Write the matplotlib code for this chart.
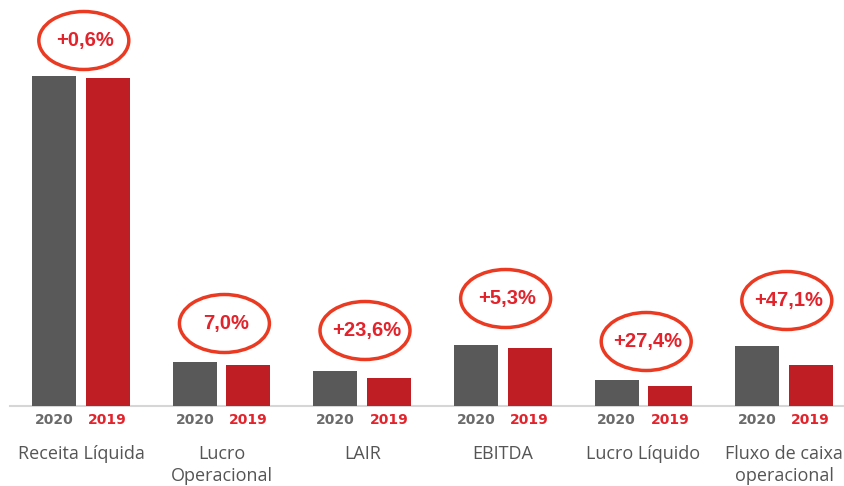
import matplotlib
matplotlib.use('Agg')
import matplotlib.pyplot as plt
from matplotlib.patches import Ellipse
import numpy as np

# indicadores 2020 x 2019 (escala relativa)
categorias = ['Receita Líquida', 'Lucro\nOperacional', 'LAIR', 'EBITDA',
              'Lucro Líquido', 'Fluxo de caixa\noperacional']
valores_2020 = [329, 44, 35, 61, 26, 60]
valores_2019 = [327, 41, 28, 58, 20, 41]
variacoes = ['+0,6%', '7,0%', '+23,6%', '+5,3%', '+27,4%', '+47,1%']

# altura dos balões acima da barra mais alta de cada grupo
elevacao = [36, 38, 40, 46, 38, 45]

cinza = '#595959'
vermelho = '#be1e24'
texto_vermelho = '#e3232b'
contorno = '#ea3a22'

fig = plt.figure(figsize=(8.45, 4.86), dpi=100)
ax = fig.add_axes([0, 0, 1, 1])
ax.set_xlim(-81 / 140.6, (845 - 81) / 140.6)
ax.set_ylim(-(486 - 405.5), 405.5)
ax.axis('off')

x = np.arange(len(categorias))
desl = 0.19
larg = 0.313

ax.bar(x - desl, valores_2020, larg, color=cinza, zorder=2)
ax.bar(x + desl, valores_2019, larg, color=vermelho, zorder=2)
ax.axhline(0, xmin=10 / 845, xmax=1, color='#d6d6d6', lw=1.5, zorder=1)

for i in range(len(categorias)):
    ax.text(x[i] - desl, -14.5, '2020', ha='center', va='center',
            fontsize=10, fontweight='bold', color='#6a6a6a', family='DejaVu Sans')
    ax.text(x[i] + desl, -14.5, '2019', ha='center', va='center',
            fontsize=10, fontweight='bold', color=texto_vermelho, family='DejaVu Sans')
    ax.text(x[i], -39.5, categorias[i], ha='center', va='top', fontsize=13,
            color='#555555', family='Open Sans', linespacing=1.25)

    # destaque da variação
    topo = max(valores_2020[i], valores_2019[i])
    cx = x[i] + 0.02
    cy = topo + elevacao[i]
    ax.add_patch(Ellipse((cx, cy), 0.64, 58, fill=False, edgecolor=contorno,
                         lw=2.5, zorder=3))
    ax.text(cx + 0.01, cy, variacoes[i], ha='center', va='center', fontsize=14.5,
            fontweight='bold', color=texto_vermelho, family='Liberation Sans',
            zorder=4)

fig.savefig('out.png', dpi=100)
